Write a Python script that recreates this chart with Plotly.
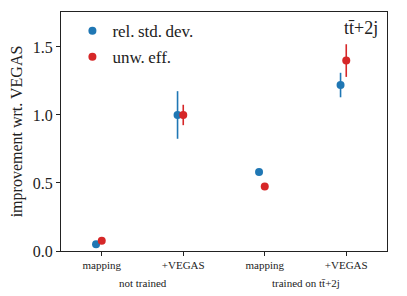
import plotly.graph_objects as go

categories = ["mapping", "+VEGAS", "mapping", "+VEGAS"]
groups = ["not trained", "trained on tt\u0304+2j"]
rsd_vals = [0.05, 1.0, 0.58, 1.22]
rsd_err = [0.0, 0.175, 0.0, 0.09]
unw_vals = [0.076, 1.0, 0.475, 1.40]
unw_err = [0.0, 0.075, 0.0, 0.12]
yticks = [0.0, 0.5, 1.0, 1.5]

font = "Liberation Serif"
pos = list(range(len(categories)))

fig = go.Figure()
fig.add_trace(go.Scatter(
    x=[p - 0.07 for p in pos], y=rsd_vals, mode="markers", name="rel.\u2009std.\u2009dev.",
    legendgroup="a",
    marker=dict(color="#1f77b4", size=8),
    error_y=dict(type="data", array=rsd_err, visible=True, color="#1f77b4", thickness=1.6, width=0),
))
fig.add_trace(go.Scatter(
    x=pos, y=unw_vals, mode="markers", name="unw.\u2009eff.",
    legendgroup="b",
    marker=dict(color="#d62728", size=8),
    error_y=dict(type="data", array=unw_err, visible=True, color="#d62728", thickness=1.6, width=0),
))

fig.update_layout(
    template="none",
    width=407, height=296,
    margin=dict(l=61, r=20, t=12, b=45),
    paper_bgcolor="white", plot_bgcolor="white",
    font=dict(family=font, color="#222", size=14),
    showlegend=True,
    legend=dict(x=0.035, y=0.995, xanchor="left", yanchor="top", bgcolor="rgba(0,0,0,0)",
                itemwidth=30, tracegroupgap=1,
                font=dict(family=font, size=17, color="#222")),
    xaxis=dict(range=[-0.5, 3.5], tickvals=pos, ticktext=categories, showgrid=False, zeroline=False,
               showline=True, linecolor="#222", linewidth=1, mirror=True,
               ticks="outside", ticklen=4, tickcolor="#222", tickfont=dict(size=11, family=font)),
    yaxis=dict(range=[0, 1.757], tickvals=yticks, ticktext=["0.0", "0.5", "1.0", "1.5"],
               showgrid=False, zeroline=False,
               showline=True, linecolor="#222", linewidth=1, mirror=True,
               ticks="outside", ticklen=4, tickcolor="#222", tickfont=dict(size=16, family=font),
               title=dict(text="improvement wrt. VEGAS", font=dict(size=16, family=font), standoff=6)),
    annotations=[
        dict(x=0.5, y=-0.1, xref="x", yref="paper", text=groups[0], showarrow=False,
             font=dict(size=11, family=font), yanchor="top"),
        dict(x=2.5, y=-0.1, xref="x", yref="paper", text=groups[1], showarrow=False,
             font=dict(size=11, family=font), yanchor="top"),
        dict(x=0.98, y=0.985, xref="paper", yref="paper", text="tt\u0304+2j", showarrow=False,
             font=dict(size=18, family=font), xanchor="right", yanchor="top"),
    ],
)

fig.write_html("out.html", config={"displayModeBar": False})
with open("out.html", "r", encoding="utf-8") as f:
    html = f.read()
html = html.replace("<head>", "<head><style>html,body{margin:0;padding:0;overflow:hidden;}</style>", 1)
with open("out.html", "w", encoding="utf-8") as f:
    f.write(html)
